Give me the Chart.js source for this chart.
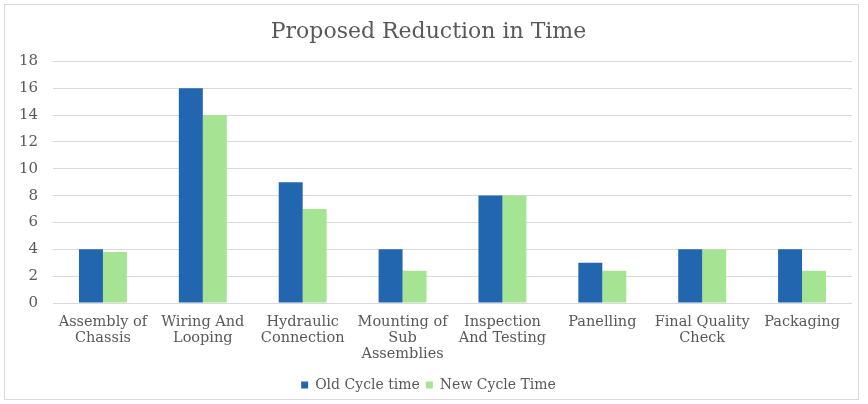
<!DOCTYPE html>
<html>
<head>
<meta charset="utf-8">
<script src="https://cdn.jsdelivr.net/npm/chart.js@4.4.1/dist/chart.umd.min.js"></script>
<style>
  html, body { margin: 0; padding: 0; background: #fff; }
  #frame {
    position: absolute; left: 4px; top: 4px;
    width: 853px; height: 394px;
    border: 1px solid #d9d9d9; background: #fff;
  }
  #wrap {
    position: absolute; left: 5px; top: 5px;
    width: 853px; height: 397px;
  }
</style>
</head>
<body>
<div id="frame"></div>
<div id="wrap"><canvas id="chart"></canvas></div>
<script>
const categories = [
  ['Assembly of', 'Chassis'],
  ['Wiring And', 'Looping'],
  ['Hydraulic', 'Connection'],
  ['Mounting of', 'Sub', 'Assemblies'],
  ['Inspection', 'And Testing'],
  ['Panelling'],
  ['Final Quality', 'Check'],
  ['Packaging']
];
const oldCycleTime = [4, 16, 9, 4, 8, 3, 4, 4];
const newCycleTime = [3.8, 14, 7, 2.4, 8, 2.4, 4, 2.4];

const TEXT = '#595959';
const FONT = "'DejaVu Serif', 'Liberation Serif', serif";

new Chart(document.getElementById('chart'), {
  type: 'bar',
  data: {
    labels: categories,
    datasets: [
      { label: 'Old Cycle time', data: oldCycleTime, backgroundColor: '#2166ae' },
      { label: 'New Cycle Time', data: newCycleTime, backgroundColor: '#a5e493' }
    ]
  },
  options: {
    responsive: true,
    maintainAspectRatio: false,
    animation: false,
    layout: { padding: { left: 0, right: 6, top: 0, bottom: 0 } },
    datasets: { bar: { categoryPercentage: 0.48, barPercentage: 1 } },
    scales: {
      x: {
        grid: { display: false, drawTicks: false },
        border: { display: false },
        ticks: {
          color: TEXT, font: { family: FONT, size: 14.5, lineHeight: 1.1 },
          padding: 11, maxRotation: 0, autoSkip: false
        },
        afterFit: s => { s.height = 69; }
      },
      y: {
        min: 0, max: 18,
        ticks: { stepSize: 2, color: TEXT, font: { family: FONT, size: 15 }, padding: 15 },
        grid: { color: '#d9d9d9', drawTicks: false },
        border: { display: false },
        afterFit: s => { s.width = 48; }
      }
    },
    plugins: {
      title: {
        display: true,
        text: 'Proposed Reduction in Time',
        color: TEXT,
        font: { family: FONT, size: 22, weight: 'normal', lineHeight: 1.2 },
        padding: { top: 14, bottom: 16 }
      },
      legend: {
        position: 'bottom',
        labels: {
          color: TEXT, font: { family: FONT, size: 14 },
          usePointStyle: true, pointStyle: 'rect', boxWidth: 7, boxHeight: 7,
          padding: 6
        }
      },
      tooltip: { enabled: false }
    }
  }
});
</script>
</body>
</html>
